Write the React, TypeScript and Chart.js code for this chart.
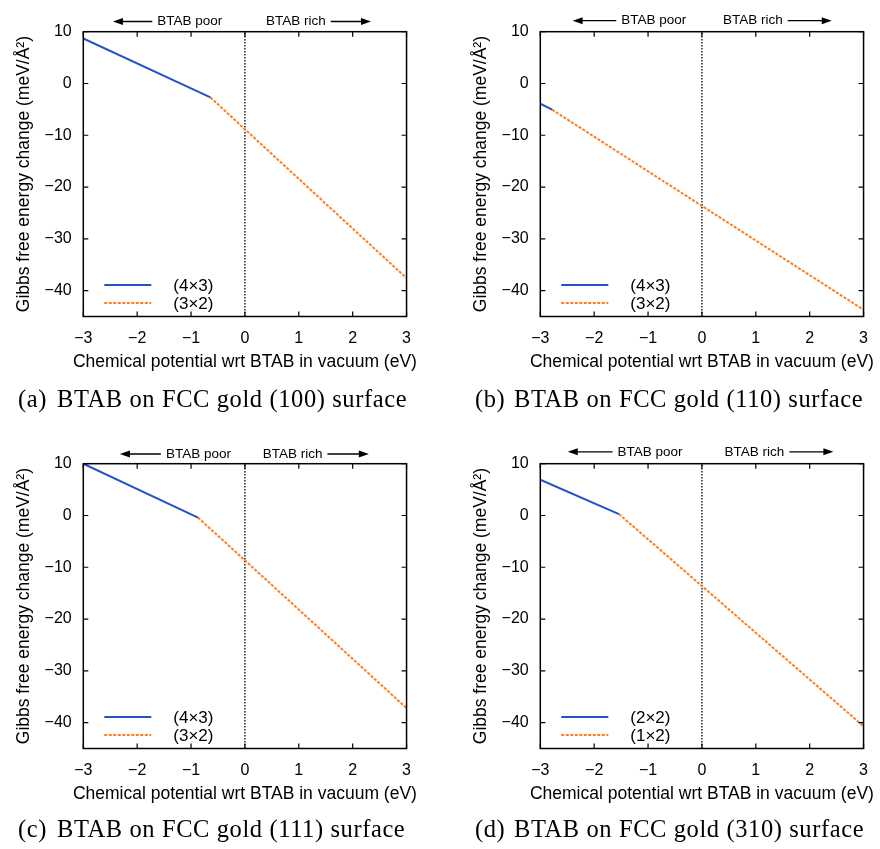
import React, { useEffect, useRef } from "react";
import { Chart, registerables } from "chart.js";
Chart.register(...registerables);

// ---- shared axes ----
const xTicks = [-3, -2, -1, 0, 1, 2, 3];
const yTicks = [-40, -30, -20, -10, 0, 10];
const X_MIN = -3;
const X_MAX = 3;
const Y_MIN = -45;
const Y_MAX = 10;
const xTitle = "Chemical potential wrt BTAB in vacuum (eV)";
const yTitle = "Gibbs free energy change (meV/Å²)";
const poorText = "BTAB poor";
const richText = "BTAB rich";

// ---- (a) (100) ----
const aLowX = [-3, -0.64];
const aLowY = [8.7, -2.7];
const aHighX = [-0.64, 3];
const aHighY = [-2.7, -37.6];
const aLabels = ["(4×3)", "(3×2)"];
const aCaption = ["(a)", "BTAB on FCC gold (100) surface"];

// ---- (b) (110) ----
const bLowX = [-3, -2.78];
const bLowY = [-3.9, -5.06];
const bHighX = [-2.78, 3];
const bHighY = [-5.06, -43.7];
const bLabels = ["(4×3)", "(3×2)"];
const bCaption = ["(b)", "BTAB on FCC gold (110) surface"];

// ---- (c) (111) ----
const cLowX = [-3, -0.87];
const cLowY = [10.0, -0.4];
const cHighX = [-0.87, 3];
const cHighY = [-0.4, -37.2];
const cLabels = ["(4×3)", "(3×2)"];
const cCaption = ["(c)", "BTAB on FCC gold (111) surface"];

// ---- (d) (310) ----
const dLowX = [-3, -1.54];
const dLowY = [6.9, 0.27];
const dHighX = [-1.54, 3];
const dHighY = [0.27, -40.7];
const dLabels = ["(2×2)", "(1×2)"];
const dCaption = ["(d)", "BTAB on FCC gold (310) surface"];

const BLUE = "#2452c8";
const ORANGE = "#ff7f1e";
const SANS = "'Liberation Sans', Arial, sans-serif";
const SERIF = "'Liberation Serif', 'Times New Roman', serif";

type Panel = {
  left: number;
  top: number;
  width: number;
  height: number;
  lowX: number[];
  lowY: number[];
  highX: number[];
  highY: number[];
  labels: string[];
  caption: string[];
  arrows: number[]; // poorTip, poorEnd, richStart, richTip (data x)
  annY: number;
  capY: number;
};

const panels: Panel[] = [
  { left: 0, top: 0, width: 423, height: 432, lowX: aLowX, lowY: aLowY, highX: aHighX, highY: aHighY, labels: aLabels, caption: aCaption, arrows: [-2.45, -0.42, 0.39, 2.34], annY: 21.5, capY: 406.7 },
  { left: 457, top: 0, width: 423, height: 432, lowX: bLowX, lowY: bLowY, highX: bHighX, highY: bHighY, labels: bLabels, caption: bCaption, arrows: [-2.4, -0.29, 0.39, 2.41], annY: 20.7, capY: 406.7 },
  { left: 0, top: 432, width: 423, height: 417, lowX: cLowX, lowY: cLowY, highX: cHighX, highY: cHighY, labels: cLabels, caption: cCaption, arrows: [-2.32, -0.26, 0.33, 2.3], annY: 22, capY: 404.7 },
  { left: 457, top: 432, width: 423, height: 417, lowX: dLowX, lowY: dLowY, highX: dHighX, highY: dHighY, labels: dLabels, caption: dCaption, arrows: [-2.49, -0.36, 0.42, 2.44], annY: 19.8, capY: 404.7 },
];

const PLOT_L = 83.3;
const PLOT_R = 407.7;
const PLOT_T = 31.7;
const PLOT_B = 316.5;
const TICK = 5;

const fmt = (v: number | string) => {
  const n = Number(v);
  return n < 0 ? "\u2212" + Math.abs(n) : String(n);
};

function arrowHead(ctx: CanvasRenderingContext2D, tipX: number, y: number, dir: number) {
  const len = 10;
  const hw = 3.5;
  ctx.beginPath();
  ctx.moveTo(tipX, y);
  ctx.lineTo(tipX - dir * len, y - hw);
  ctx.lineTo(tipX - dir * len, y + hw);
  ctx.closePath();
  ctx.fill();
}

function makeDecor(p: Panel) {
  return {
    id: "decor",
    afterDraw(chart: any) {
      const ctx: CanvasRenderingContext2D = chart.ctx;
      const a = chart.chartArea;
      const xs = chart.scales.x;
      const ys = chart.scales.y;
      ctx.save();
      ctx.setLineDash([]);
      ctx.strokeStyle = "#000";
      ctx.fillStyle = "#000";
      // frame
      ctx.lineWidth = 1.5;
      ctx.strokeRect(a.left, a.top, a.right - a.left, a.bottom - a.top);
      // inward ticks on all four sides
      ctx.lineWidth = 1.2;
      ctx.beginPath();
      for (const v of xTicks) {
        const px = xs.getPixelForValue(v);
        ctx.moveTo(px, a.bottom);
        ctx.lineTo(px, a.bottom - TICK);
        ctx.moveTo(px, a.top);
        ctx.lineTo(px, a.top + TICK);
      }
      for (const v of yTicks) {
        const py = ys.getPixelForValue(v);
        ctx.moveTo(a.left, py);
        ctx.lineTo(a.left + TICK, py);
        ctx.moveTo(a.right, py);
        ctx.lineTo(a.right - TICK, py);
      }
      ctx.stroke();

      // axis titles
      ctx.font = `17.5px ${SANS}`;
      ctx.textAlign = "center";
      ctx.textBaseline = "alphabetic";
      ctx.fillText(xTitle, (a.left + a.right) / 2, 367);
      ctx.save();
      ctx.translate(28.5, (a.top + a.bottom) / 2);
      ctx.rotate(-Math.PI / 2);
      ctx.fillText(yTitle, 0, 0);
      ctx.restore();

      // legend
      const ds = chart.data.datasets;
      const rows = [a.bottom - 31.6, a.bottom - 13.6];
      for (let i = 0; i < 2; i++) {
        ctx.save();
        ctx.strokeStyle = ds[i].borderColor;
        ctx.lineWidth = ds[i].borderWidth;
        ctx.setLineDash(ds[i].borderDash || []);
        ctx.beginPath();
        ctx.moveTo(a.left + 21, rows[i]);
        ctx.lineTo(a.left + 68, rows[i]);
        ctx.stroke();
        ctx.restore();
        ctx.textAlign = "left";
        ctx.textBaseline = "alphabetic";
        ctx.font = `17px ${SANS}`;
        ctx.fillText(ds[i].label, a.left + 90, rows[i] + 6);
      }

      // BTAB poor / rich annotations
      ctx.font = `13.5px ${SANS}`;
      ctx.textBaseline = "middle";
      const [poorTip, poorEnd, richStart, richTip] = p.arrows.map((v) => xs.getPixelForValue(v));
      const y = p.annY;
      const pw = ctx.measureText(poorText).width;
      ctx.textAlign = "right";
      ctx.fillText(poorText, poorEnd, y);
      ctx.lineWidth = 1.3;
      ctx.beginPath();
      ctx.moveTo(poorEnd - pw - 5, y);
      ctx.lineTo(poorTip + 6, y);
      ctx.stroke();
      arrowHead(ctx, poorTip, y, -1);
      const rw = ctx.measureText(richText).width;
      ctx.textAlign = "left";
      ctx.fillText(richText, richStart, y);
      ctx.beginPath();
      ctx.moveTo(richStart + rw + 5, y);
      ctx.lineTo(richTip - 6, y);
      ctx.stroke();
      arrowHead(ctx, richTip, y, 1);

      // caption
      ctx.font = `24.5px ${SERIF}`;
      (ctx as any).letterSpacing = "0.6px";
      ctx.textAlign = "left";
      ctx.textBaseline = "alphabetic";
      ctx.fillText(p.caption[0], 18, p.capY);
      ctx.fillText(p.caption[1], 57, p.capY);
      (ctx as any).letterSpacing = "0px";
      ctx.restore();
    },
  };
}

function PanelChart({ p }: { p: Panel }) {
  const ref = useRef<HTMLCanvasElement | null>(null);
  useEffect(() => {
    if (!ref.current) return;
    const H = p.height;
    const W = p.width;
    const chart = new Chart(ref.current, {
      type: "line",
      data: {
        datasets: [
          {
            label: p.labels[0],
            data: p.lowX.map((x, i) => ({ x, y: p.lowY[i] })),
            borderColor: BLUE,
            borderWidth: 2,
            pointRadius: 0,
            fill: false,
            tension: 0,
          },
          {
            label: p.labels[1],
            data: p.highX.map((x, i) => ({ x, y: p.highY[i] })),
            borderColor: ORANGE,
            borderWidth: 2,
            borderDash: [3, 1.5],
            pointRadius: 0,
            fill: false,
            tension: 0,
          },
          {
            label: "zero",
            data: [
              { x: 0, y: Y_MIN },
              { x: 0, y: Y_MAX },
            ],
            borderColor: "#000",
            borderWidth: 1.3,
            borderDash: [1.5, 1.5],
            pointRadius: 0,
            fill: false,
          },
        ],
      } as any,
      options: {
        animation: false,
        responsive: false,
        maintainAspectRatio: false,
        layout: { padding: { left: 0, top: PLOT_T, right: W - PLOT_R, bottom: 0 } },
        plugins: { legend: { display: false }, tooltip: { enabled: false } },
        scales: {
          x: {
            type: "linear",
            min: X_MIN,
            max: X_MAX,
            afterBuildTicks: (s: any) => {
              s.ticks = xTicks.map((v) => ({ value: v }));
            },
            afterFit: (s: any) => {
              s.height = H - PLOT_B;
            },
            grid: { display: false, drawTicks: false },
            border: { display: false },
            ticks: {
              padding: 12,
              color: "#000",
              font: { size: 16, family: SANS },
              callback: fmt,
              maxRotation: 0,
              autoSkip: false,
            },
          },
          y: {
            type: "linear",
            min: Y_MIN,
            max: Y_MAX,
            afterBuildTicks: (s: any) => {
              s.ticks = yTicks.map((v) => ({ value: v }));
            },
            afterFit: (s: any) => {
              s.width = PLOT_L;
            },
            grid: { display: false, drawTicks: false },
            border: { display: false },
            ticks: {
              padding: 11.6,
              color: "#000",
              font: { size: 16, family: SANS },
              callback: fmt,
              autoSkip: false,
            },
          },
        },
      } as any,
      plugins: [makeDecor(p)],
    });
    return () => chart.destroy();
  }, [p]);
  return (
    <canvas
      ref={ref}
      width={p.width}
      height={p.height}
      style={{ position: "absolute", left: p.left, top: p.top, width: p.width, height: p.height }}
    />
  );
}

export default function App() {
  return (
    <div style={{ position: "absolute", left: 0, top: 0, width: 880, height: 849, background: "#fff", overflow: "hidden" }}>
      {panels.map((p, i) => (
        <PanelChart key={i} p={p} />
      ))}
    </div>
  );
}
